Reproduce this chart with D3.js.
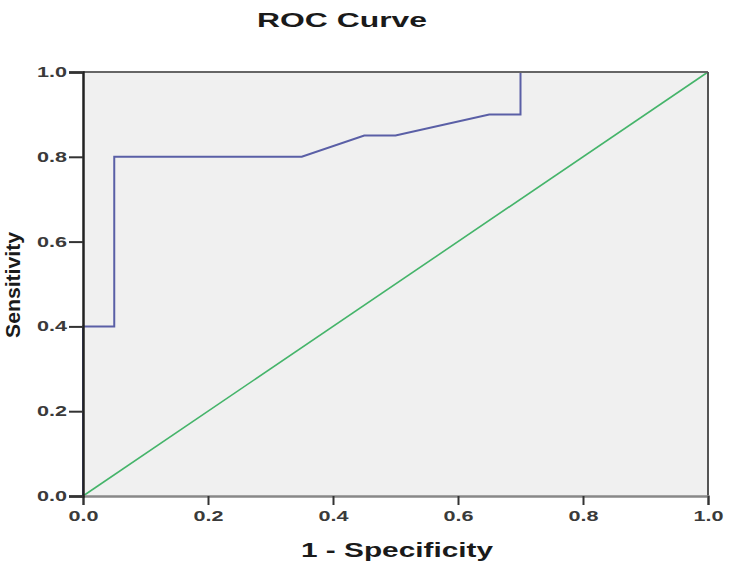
<!DOCTYPE html>
<html>
<head>
<meta charset="utf-8">
<script src="https://cdn.jsdelivr.net/npm/d3@7/dist/d3.min.js"></script>
<style>
  html, body { margin: 0; padding: 0; background: #fff; }
  svg { display: block; font-family: "Liberation Sans", Arial, sans-serif; }
</style>
</head>
<body>
<svg id="chart" width="737" height="568"></svg>
<script>
// ---- data ----
const rocFpr = [0, 0, 0.05, 0.05, 0.35, 0.45, 0.50, 0.65, 0.70, 0.70, 1.0];
const rocTpr = [0, 0.4, 0.4, 0.8, 0.8, 0.85, 0.85, 0.90, 0.90, 1.0, 1.0];
const refX = [0, 1];
const refY = [0, 1];
const xTicks = [0, 0.2, 0.4, 0.6, 0.8, 1.0];
const yTicks = [0, 0.2, 0.4, 0.6, 0.8, 1.0];
const titleText = "ROC Curve";
const xLabel = "1 - Specificity";
const yLabel = "Sensitivity";

(function () {
// ---- layout ----
const svg = d3.select("#chart");
const pLeft = 83, pRight = 708, pTop = 72, pBottom = 496;

const x = d3.scaleLinear().domain([0, 1]).range([pLeft, pRight]);
const y = d3.scaleLinear().domain([0, 1]).range([pBottom, pTop]);

// plot background
svg.append("rect")
  .attr("x", pLeft).attr("y", pTop)
  .attr("width", pRight - pLeft).attr("height", pBottom - pTop)
  .attr("fill", "#f0f0f0");

// reference diagonal
const line = d3.line().x(d => x(d[0])).y(d => y(d[1]));
svg.append("path")
  .datum(refX.map((v, i) => [v, refY[i]]))
  .attr("d", line)
  .attr("fill", "none")
  .attr("stroke", "#45b46a")
  .attr("stroke-width", 1.6);

// ROC curve
svg.append("path")
  .datum(rocFpr.map((v, i) => [v, rocTpr[i]]))
  .attr("d", line)
  .attr("fill", "none")
  .attr("stroke", "#5a5fa6")
  .attr("stroke-width", 2);

// frame
svg.append("line").attr("x1", pLeft).attr("x2", pRight).attr("y1", pTop).attr("y2", pTop)
  .attr("stroke", "#666").attr("stroke-width", 2);
svg.append("line").attr("x1", pRight).attr("x2", pRight).attr("y1", pTop).attr("y2", pBottom)
  .attr("stroke", "#555").attr("stroke-width", 2);

// axes
const fmt = d3.format(".1f");
const xAxis = svg.append("g")
  .attr("transform", `translate(0,${pBottom})`)
  .call(d3.axisBottom(x).tickValues(xTicks).tickFormat(fmt).tickSize(9).tickPadding(3));
const yAxis = svg.append("g")
  .attr("transform", `translate(${pLeft},0)`)
  .call(d3.axisLeft(y).tickValues(yTicks).tickFormat(fmt).tickSize(14).tickPadding(2));

xAxis.select(".domain").attr("stroke", "#888").attr("stroke-width", 2.5);
yAxis.select(".domain").attr("stroke", "#222").attr("stroke-width", 2.5);
[xAxis, yAxis].forEach(g => {
  g.selectAll(".tick line").attr("stroke", "#333").attr("stroke-width", 2);
  g.selectAll(".tick text")
    .attr("fill", "#3a3a3a")
    .attr("font-size", 14)
    .attr("font-weight", "bold")
    .attr("font-family", "'Liberation Sans', Arial, sans-serif")
    .attr("textLength", 30)
    .attr("lengthAdjust", "spacingAndGlyphs");
});
xAxis.selectAll(".tick text").attr("dy", "0.9em");

// title
svg.append("text")
  .attr("x", 342).attr("y", 27)
  .attr("text-anchor", "middle")
  .attr("font-size", 21)
  .attr("font-weight", "bold")
  .attr("fill", "#1a1a1a")
  .attr("textLength", 170)
  .attr("lengthAdjust", "spacingAndGlyphs")
  .text(titleText);

// x label
svg.append("text")
  .attr("x", 397).attr("y", 557)
  .attr("text-anchor", "middle")
  .attr("font-size", 21)
  .attr("font-weight", "bold")
  .attr("fill", "#1a1a1a")
  .attr("textLength", 192)
  .attr("lengthAdjust", "spacingAndGlyphs")
  .text(xLabel);

// y label
svg.append("text")
  .attr("transform", "translate(20,285) rotate(-90)")
  .attr("text-anchor", "middle")
  .attr("font-size", 20)
  .attr("font-weight", "bold")
  .attr("fill", "#1a1a1a")
  .attr("textLength", 106)
  .attr("lengthAdjust", "spacingAndGlyphs")
  .text(yLabel);
})();
</script>
</body>
</html>
